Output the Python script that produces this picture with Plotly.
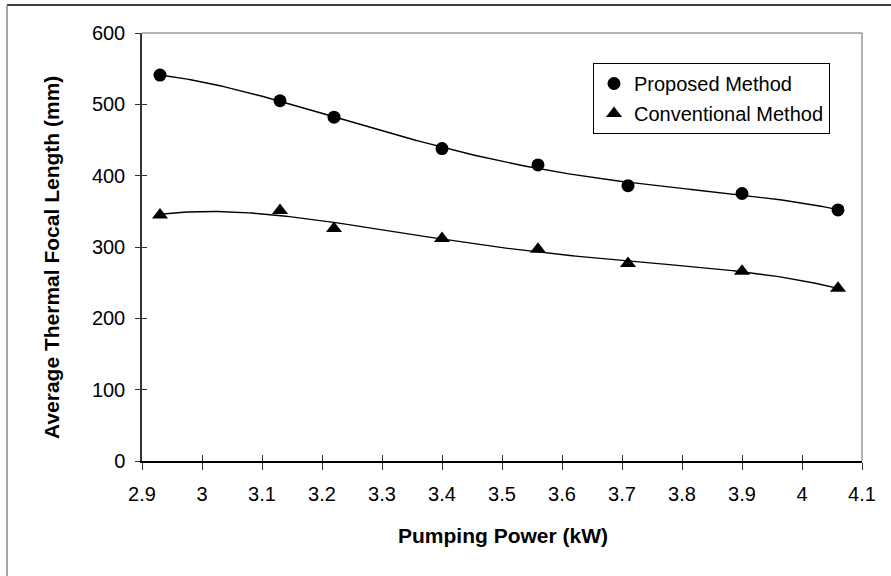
import numpy as np
import plotly.graph_objects as go

# ---- data ----
pump_power = [2.93, 3.13, 3.22, 3.40, 3.56, 3.71, 3.90, 4.06]
proposed = [541, 505, 482, 438, 415, 386, 375, 352]
conventional = [345, 351, 326, 312, 297, 277, 266, 242]
x_tick_vals = [2.9, 3.0, 3.1, 3.2, 3.3, 3.4, 3.5, 3.6, 3.7, 3.8, 3.9, 4.0, 4.1]
x_tick_text = ["2.9", "3", "3.1", "3.2", "3.3", "3.4", "3.5", "3.6", "3.7", "3.8", "3.9", "4", "4.1"]
y_tick_vals = [0, 100, 200, 300, 400, 500, 600]

# ---- layout geometry (pixels) ----
W, H = 891, 576
L, R, T, B = 142, 29, 33, 115
PW, PH = W - L - R, H - T - B


def px(xp):
    return (xp - L) / PW


def py(yp):
    return (H - B - yp) / PH


FONT = "Liberation Sans, Arial, sans-serif"

# polynomial trendlines (like spreadsheet trendline)
xs = np.linspace(min(pump_power), max(pump_power), 200)
fit_p = np.polyval(np.polyfit(pump_power, proposed, 4), xs)
fit_c = np.polyval(np.polyfit(pump_power, conventional, 4), xs)

fig = go.Figure()
fig.add_trace(go.Scatter(x=xs, y=fit_p, mode="lines", line=dict(color="black", width=1.4),
                         showlegend=False, hoverinfo="skip"))
fig.add_trace(go.Scatter(x=xs, y=fit_c, mode="lines", line=dict(color="black", width=1.4),
                         showlegend=False, hoverinfo="skip"))
fig.add_trace(go.Scatter(x=pump_power, y=proposed, mode="markers", name="Proposed Method",
                         legendgroup="a",
                         marker=dict(symbol="circle", size=13, color="black")))
fig.add_trace(go.Scatter(x=pump_power, y=conventional, mode="markers", name="Conventional Method",
                         legendgroup="b",
                         marker=dict(symbol="triangle-up", size=14, color="black")))
# empty trace for overlay axes (inner half of crossing ticks)
fig.add_trace(go.Scatter(x=[], y=[], xaxis="x2", yaxis="y2", showlegend=False))

fig.update_layout(
    width=W, height=H,
    margin=dict(l=L, r=R, t=T, b=B),
    paper_bgcolor="white", plot_bgcolor="white",
    font=dict(family=FONT, color="black", size=20),
    xaxis=dict(range=[2.9, 4.1], tickvals=x_tick_vals, ticktext=x_tick_text,
               showgrid=False, zeroline=False, showline=True, linecolor="black", linewidth=1.5,
               ticks="outside", ticklen=7, tickwidth=1, tickcolor="#333",
               tickfont=dict(size=20), ticklabelstandoff=7),
    yaxis=dict(range=[0, 600], tickvals=y_tick_vals,
               showgrid=False, zeroline=False, showline=True, linecolor="#333", linewidth=1.5,
               ticks="outside", ticklen=5, tickwidth=1, tickcolor="#333",
               tickfont=dict(size=20), ticklabelstandoff=6),
    xaxis2=dict(range=[2.9, 4.1], tickvals=x_tick_vals, overlaying="x", anchor="y2",
                showgrid=False, zeroline=False, showline=False, showticklabels=False,
                ticks="inside", ticklen=6, tickwidth=1, tickcolor="#333"),
    yaxis2=dict(range=[0, 600], tickvals=y_tick_vals, overlaying="y", anchor="x2",
                showgrid=False, zeroline=False, showline=False, showticklabels=False,
                ticks="inside", ticklen=5, tickwidth=1, tickcolor="#333"),
    legend=dict(x=px(593), y=py(63), xanchor="left", yanchor="top",
                bordercolor="black", borderwidth=1, bgcolor="white",
                font=dict(size=20), traceorder="grouped", tracegroupgap=1,
                itemwidth=30),
    shapes=[
        # plot-area frame (top and right)
        dict(type="line", xref="paper", yref="paper", x0=0, x1=1, y0=1, y1=1,
             line=dict(color="#999", width=1.5)),
        dict(type="line", xref="paper", yref="paper", x0=1, x1=1, y0=0, y1=1,
             line=dict(color="#999", width=1.5)),
        # outer chart border
        dict(type="line", xref="paper", yref="paper", x0=px(7), x1=px(895), y0=py(5), y1=py(5),
             line=dict(color="black", width=1.5)),
        dict(type="line", xref="paper", yref="paper", x0=px(7), x1=px(7), y0=py(5), y1=py(580),
             line=dict(color="#888", width=1.5)),
    ],
    annotations=[
        dict(text="<b>Average Thermal Focal Length (mm)</b>", xref="paper", yref="paper",
             x=px(51), y=py(258), textangle=-90, showarrow=False,
             xanchor="center", yanchor="middle", font=dict(size=21)),
        dict(text="<b>Pumping Power (kW)</b>", xref="paper", yref="paper",
             x=px(503), y=py(535), showarrow=False,
             xanchor="center", yanchor="middle", font=dict(size=21)),
    ],
)

fig.write_html("out.html")
